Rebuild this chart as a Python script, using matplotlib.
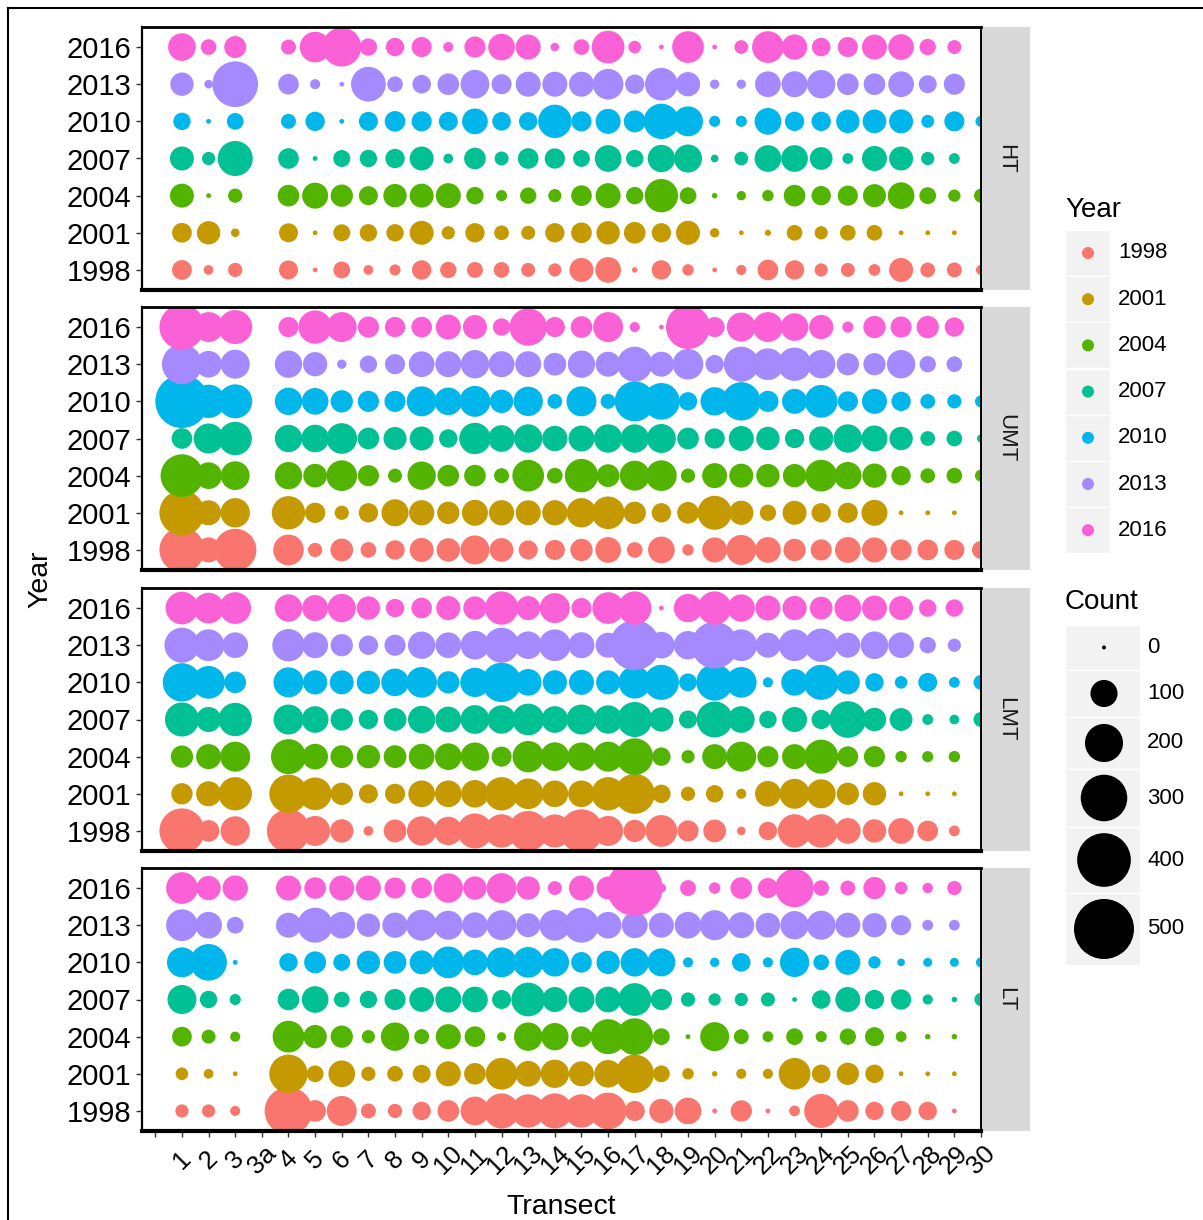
import numpy as np
import matplotlib
matplotlib.use("Agg")
import matplotlib.pyplot as plt
from matplotlib.patches import Rectangle

plt.rcParams['font.family'] = ['Liberation Sans', 'DejaVu Sans']

W, H = 1203, 1220
nan = np.nan

# x categories: an empty level and "3a" carry no counts
categories = [''] + ['1', '2', '3', '3a'] + [str(i) for i in range(4, 31)]
transects = ['1', '2', '3'] + [str(i) for i in range(4, 31)]
years = [1998, 2001, 2004, 2007, 2010, 2013, 2016]
year_colors = ['#F8766D', '#C49A00', '#53B400', '#00C094', '#00B6EB', '#A58AFF', '#FB61D7']
zones = ['HT', 'UMT', 'LMT', 'LT']

# counts per year, transects 1..30
ht = {
    2016: [105, 32, 65, 29, 129, 210, 40, 45, 54, 12, 60, 97, 85, 8, 32, 147, 20, 1, 138, 1, 24, 138, 87, 46, 54, 85, 90, 35, 25, nan],
    2013: [74, 8, 289, 57, 12, 1, 166, 32, 46, 63, 113, 54, 85, 85, 85, 129, 50, 147, 80, 10, 10, 90, 92, 110, 63, 63, 90, 43, 60, nan],
    2010: [40, 1, 37, 29, 50, 1, 48, 57, 54, 48, 90, 46, 45, 153, 54, 85, 65, 172, 123, 15, 15, 97, 50, 50, 74, 76, 78, 21, 54, 15],
    2007: [78, 22, 169, 57, 1, 38, 40, 50, 78, 11, 63, 25, 57, 55, 37, 97, 40, 102, 107, 6, 24, 97, 97, 70, 14, 85, 78, 22, 14, nan],
    2004: [78, 1, 26, 63, 92, 67, 48, 74, 78, 85, 40, 15, 35, 22, 57, 85, 40, 153, 37, 2, 10, 16, 63, 50, 54, 72, 97, 37, 19, 25],
    2001: [52, 74, 8, 48, 1, 38, 40, 40, 78, 22, 50, 28, 25, 50, 57, 74, 63, 50, 78, 10, 1, 3, 32, 22, 32, 32, 1, 1, 1, nan],
    1998: [52, 11, 26, 48, 1, 37, 11, 15, 50, 35, 33, 32, 25, 22, 78, 90, 2, 50, 16, 1, 12, 57, 50, 22, 25, 17, 78, 28, 29, 12],
}
umt = {
    2016: [281, 123, 159, 54, 153, 123, 60, 55, 57, 85, 78, 40, 192, 54, 63, 123, 12, 1, 268, 54, 115, 123, 104, 80, 15, 67, 60, 67, 50, nan],
    2013: [221, 97, 115, 102, 80, 10, 40, 54, 90, 92, 110, 92, 92, 70, 102, 85, 169, 85, 129, 45, 169, 138, 153, 110, 67, 67, 110, 35, 32, nan],
    2010: [394, 153, 159, 102, 97, 67, 60, 60, 123, 104, 131, 74, 118, 28, 123, 29, 221, 185, 45, 110, 203, 60, 85, 147, 54, 85, 50, 28, 26, 18],
    2007: [57, 123, 153, 102, 104, 129, 63, 72, 78, 45, 135, 97, 110, 87, 92, 110, 110, 115, 63, 55, 85, 74, 50, 80, 110, 92, 74, 28, 32, 7],
    2004: [252, 97, 113, 102, 76, 129, 60, 25, 110, 63, 63, 29, 138, 32, 153, 70, 123, 129, 26, 85, 78, 74, 74, 138, 102, 80, 50, 28, 32, 18],
    2001: [281, 85, 118, 153, 55, 26, 50, 100, 87, 67, 92, 87, 85, 87, 118, 147, 67, 50, 63, 159, 80, 35, 78, 50, 54, 92, 1, 1, 1, nan],
    1998: [281, 85, 248, 129, 26, 70, 32, 50, 78, 74, 115, 76, 48, 54, 67, 90, 32, 97, 16, 85, 123, 90, 67, 60, 90, 85, 60, 57, 54, 43],
}
lmt = {
    2016: [147, 129, 138, 102, 92, 110, 74, 45, 57, 78, 74, 153, 78, 123, 54, 138, 153, 1, 110, 153, 102, 85, 80, 70, 97, 85, 78, 40, 40, nan],
    2013: [169, 138, 90, 144, 92, 67, 50, 60, 102, 90, 113, 169, 104, 138, 92, 85, 346, 97, 110, 302, 138, 85, 138, 153, 85, 104, 90, 35, 22, nan],
    2010: [203, 147, 63, 123, 80, 78, 74, 104, 129, 67, 118, 214, 97, 80, 85, 78, 144, 169, 42, 185, 129, 12, 97, 169, 78, 45, 20, 48, 14, 29],
    2007: [159, 85, 153, 123, 97, 67, 50, 70, 102, 90, 113, 110, 138, 97, 123, 110, 169, 80, 43, 178, 97, 40, 85, 50, 185, 74, 70, 14, 11, 29],
    2004: [67, 85, 123, 169, 90, 70, 74, 70, 90, 97, 110, 54, 135, 112, 110, 123, 185, 45, 22, 85, 123, 60, 85, 159, 57, 60, 16, 15, 16, nan],
    2001: [61, 85, 153, 203, 147, 67, 48, 54, 97, 97, 104, 153, 129, 97, 97, 153, 221, 45, 26, 40, 12, 90, 123, 115, 67, 74, 1, 1, 1, nan],
    1998: [281, 63, 118, 259, 123, 74, 11, 70, 118, 110, 169, 153, 221, 150, 259, 123, 67, 138, 60, 70, 8, 45, 153, 153, 90, 74, 90, 57, 14, nan],
}
lt = {
    2016: [138, 80, 87, 85, 63, 85, 85, 60, 57, 118, 74, 123, 74, 25, 85, 72, 430, 10, 33, 16, 63, 54, 203, 32, 29, 67, 20, 13, 26, nan],
    2013: [138, 97, 37, 85, 169, 97, 74, 87, 131, 115, 90, 123, 78, 131, 169, 97, 92, 85, 97, 123, 92, 83, 110, 115, 85, 80, 54, 14, 14, nan],
    2010: [123, 185, 1, 45, 65, 38, 74, 70, 78, 138, 90, 123, 129, 110, 57, 74, 110, 107, 12, 10, 46, 12, 118, 32, 85, 19, 6, 9, 9, 12],
    2007: [115, 40, 15, 63, 97, 32, 40, 60, 83, 92, 90, 48, 156, 85, 92, 90, 147, 61, 26, 19, 22, 25, 1, 46, 85, 50, 55, 12, 2, 22],
    2004: [52, 25, 12, 138, 74, 67, 22, 110, 29, 85, 57, 9, 110, 102, 57, 169, 185, 37, 1, 115, 29, 14, 37, 15, 35, 48, 14, 2, 2, nan],
    2001: [20, 11, 1, 203, 37, 97, 26, 32, 43, 85, 63, 138, 90, 110, 85, 104, 203, 37, 16, 2, 12, 12, 138, 46, 67, 45, 1, 1, 1, nan],
    1998: [22, 22, 12, 315, 63, 123, 29, 26, 45, 63, 113, 169, 153, 170, 153, 185, 54, 80, 97, 1, 61, 1, 14, 159, 63, 45, 54, 45, 1, nan],
}
zone_data = [ht, umt, lmt, lt]
count_breaks = [0, 100, 200, 300, 400, 500]


def bubble_size(count):
    # area grows linearly with the count (diameter 4 px at 0, 60 px at 500)
    d_px2 = 16 + 7.17 * np.asarray(count, dtype=float)
    return d_px2 * (72 / 100) ** 2


def fig_rect(x0, y0, x1, y1):
    return [x0 / W, 1 - y1 / H, (x1 - x0) / W, (y1 - y0) / H]


fig = plt.figure(figsize=(W / 100, H / 100), dpi=100)

# overlay in pixel coordinates for border, strips and legends
over = fig.add_axes([0, 0, 1, 1], zorder=0)
over.set_xlim(0, W)
over.set_ylim(H, 0)
over.axis('off')
over.plot([8, 8], [8, H + 5], color='black', lw=1.5, clip_on=False)
over.plot([8, W + 5], [8, 8], color='black', lw=1.5, clip_on=False)

panel_x0, panel_x1 = 142, 981
panel_tops = [27, 307, 588, 868]
panel_h = 263
xpos = {c: i for i, c in enumerate(categories)}

for k, (zone, data) in enumerate(zip(zones, zone_data)):
    top = panel_tops[k]
    ax = fig.add_axes(fig_rect(panel_x0, top, panel_x1, top + panel_h), zorder=2)
    ax.set_facecolor('white')
    for j, (yr, col) in enumerate(zip(years, year_colors)):
        vals = np.array(data[yr], dtype=float)
        xs = np.array([xpos[t] for t in transects])
        ok = ~np.isnan(vals)
        ax.scatter(xs[ok], np.full(ok.sum(), j), s=bubble_size(vals[ok]),
                   color=col, edgecolors='none', zorder=1)
    ax.set_xlim(-0.5, 31.0)
    ax.set_ylim(-0.54, 6.54)
    ax.set_yticks(range(len(years)))
    ax.set_yticklabels([str(y) for y in years], fontsize=21, color='black')
    ax.set_xticks(range(len(categories)))
    if k == len(zones) - 1:
        ax.set_xticklabels(categories, rotation=45, ha='center', va='center',
                           fontsize=18.5, color='black')
        ax.tick_params(axis='x', length=4, width=1, color='#333333', pad=17)
    else:
        ax.set_xticklabels([])
        ax.tick_params(axis='x', length=0)
    ax.tick_params(axis='y', length=4, width=1, color='#333333', pad=4)
    for side, lw in [('top', 2.0), ('left', 1.6), ('right', 1.4), ('bottom', 3.0)]:
        ax.spines[side].set_color('black')
        ax.spines[side].set_linewidth(lw)
    # facet strip on the right
    over.add_patch(Rectangle((982, top), 48, panel_h, facecolor='#D9D9D9',
                             edgecolor='none'))
    over.text(1006, top + panel_h / 2, zone, rotation=-90, ha='center',
              va='center', fontsize=16, color='#1A1A1A')

fig.text(40 / W, 1 - 579 / H, 'Year', rotation=90, ha='center', va='center',
         fontsize=20.5)
fig.text(561 / W, 1 - 1207 / H, 'Transect', ha='center', va='center',
         fontsize=20.5)

# colour legend
over.text(1065, 210, 'Year', ha='left', va='center', fontsize=20)
for i, (yr, col) in enumerate(zip(years, year_colors)):
    cy = 253 + 46.2 * i
    over.add_patch(Rectangle((1065, cy - 23), 45, 46, facecolor='#F2F2F2',
                             edgecolor='white', lw=1))
    over.scatter([1088], [cy], s=75, color=col, edgecolors='none', zorder=3)
    over.text(1118, cy, str(yr), ha='left', va='center', fontsize=16)

# size legend
over.text(1065, 602, 'Count', ha='left', va='center', fontsize=20)
key_edges = [625, 670, 717, 769, 827, 893, 965]
for i, c in enumerate(count_breaks):
    y0, y1 = key_edges[i], key_edges[i + 1]
    cy = (y0 + y1) / 2
    over.add_patch(Rectangle((1065, y0), 75, y1 - y0, facecolor='#F2F2F2',
                             edgecolor='white', lw=1))
    over.scatter([1104], [cy], s=bubble_size(c), color='black',
                 edgecolors='none', zorder=3)
    over.text(1147, cy, str(c), ha='left', va='center', fontsize=16)

fig.savefig('out.png', dpi=100)
